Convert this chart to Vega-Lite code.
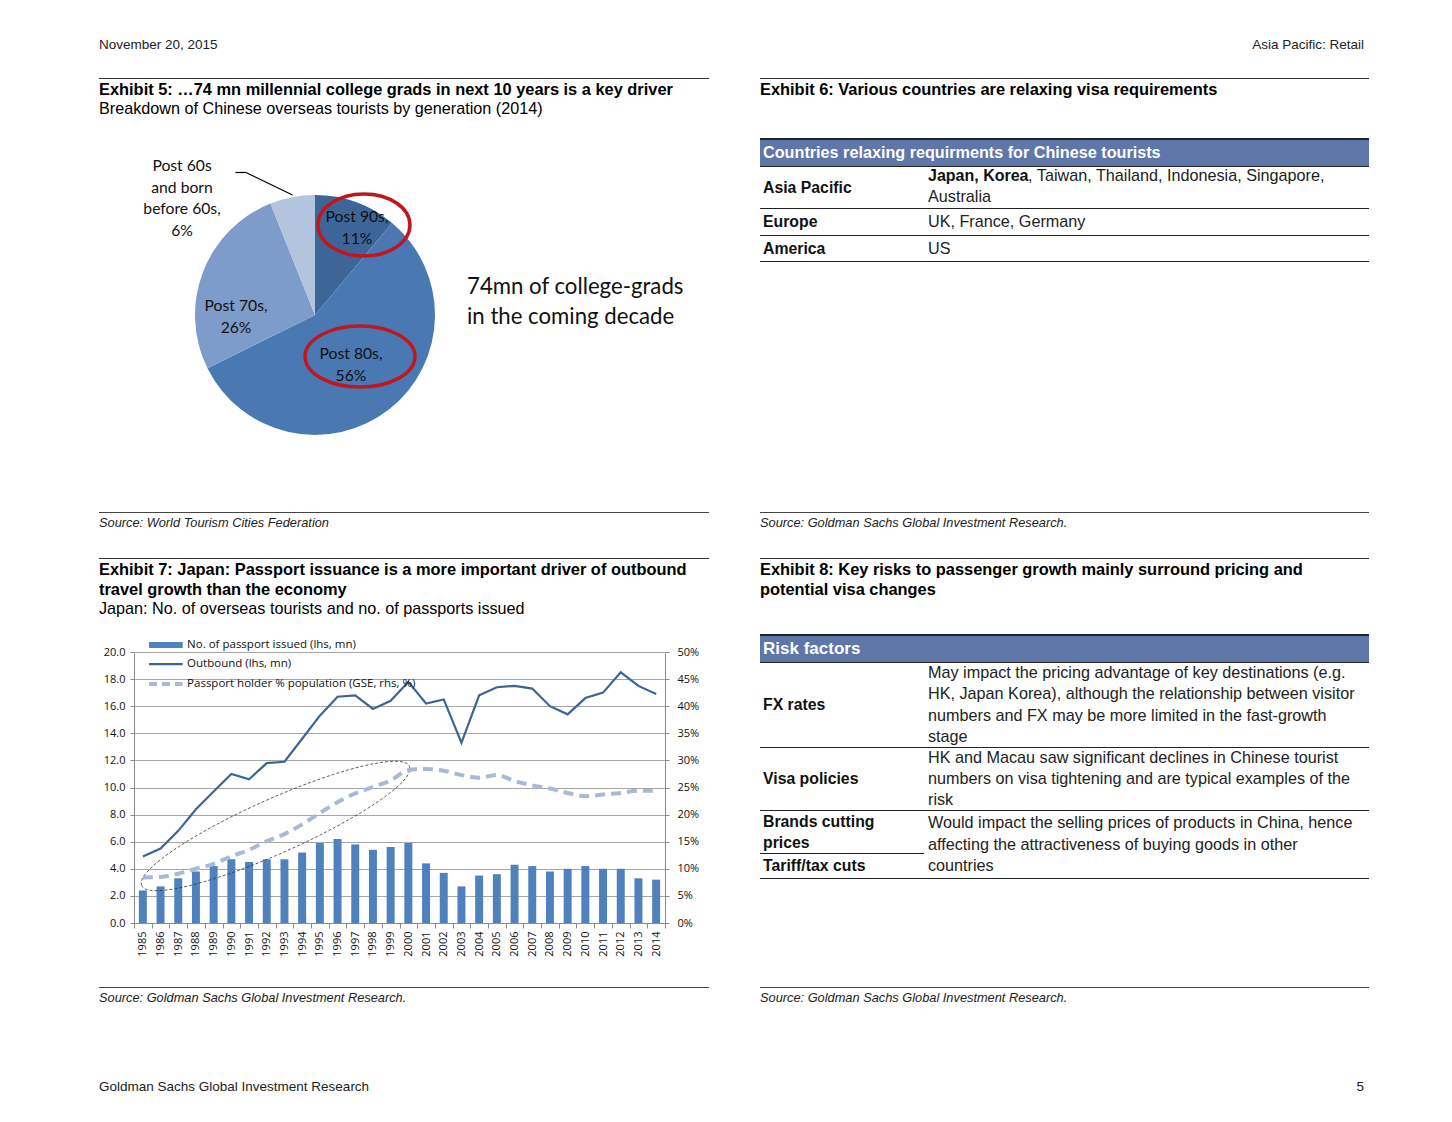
{
  "$schema": "https://vega.github.io/schema/vega-lite/v6.json",
  "padding": {"left": 99, "top": 37, "right": 0, "bottom": 0},
  "background": "#ffffff",
  "config": {
    "view": {"stroke": null},
    "concat": {"spacing": 0},
    "font": "Liberation Sans",
    "title": {"anchor": "start", "frame": "group", "baseline": "top", "offset": 0, "font": "Liberation Sans", "fontSize": 16.4, "fontWeight": "bold", "color": "#000000", "lineHeight": 20, "subtitleFont": "Liberation Sans", "subtitleFontSize": 16.2, "subtitleFontWeight": "normal", "subtitleColor": "#000000", "subtitleLineHeight": 18, "subtitlePadding": 2.6},
    "text": {"font": "Liberation Sans"}
  },
  "datasets": {
    "pie": [
      {"gen": "Post 90s", "share": 11, "label": ["Post 90s,", "11%"]},
      {"gen": "Post 80s", "share": 56, "label": ["Post 80s,", "56%"]},
      {"gen": "Post 70s", "share": 26, "label": ["Post 70s,", "26%"]},
      {"gen": "Post 60s and born before 60s", "share": 6, "label": ["Post 60s", "and born", "before 60s,", "6%"]}
    ],
    "japan": [
      {"year": 1985, "passports": 2.4, "outbound": 4.9, "holder": 0.084},
      {"year": 1986, "passports": 2.7, "outbound": 5.5, "holder": 0.085},
      {"year": 1987, "passports": 3.3, "outbound": 6.8, "holder": 0.091},
      {"year": 1988, "passports": 3.8, "outbound": 8.4, "holder": 0.100},
      {"year": 1989, "passports": 4.2, "outbound": 9.7, "holder": 0.109},
      {"year": 1990, "passports": 4.7, "outbound": 11.0, "holder": 0.123},
      {"year": 1991, "passports": 4.5, "outbound": 10.6, "holder": 0.135},
      {"year": 1992, "passports": 4.7, "outbound": 11.8, "holder": 0.151},
      {"year": 1993, "passports": 4.7, "outbound": 11.9, "holder": 0.164},
      {"year": 1994, "passports": 5.2, "outbound": 13.6, "holder": 0.182},
      {"year": 1995, "passports": 5.9, "outbound": 15.3, "holder": 0.203},
      {"year": 1996, "passports": 6.2, "outbound": 16.7, "holder": 0.223},
      {"year": 1997, "passports": 5.8, "outbound": 16.8, "holder": 0.239},
      {"year": 1998, "passports": 5.4, "outbound": 15.8, "holder": 0.251},
      {"year": 1999, "passports": 5.6, "outbound": 16.4, "holder": 0.263},
      {"year": 2000, "passports": 5.9, "outbound": 17.8, "holder": 0.282},
      {"year": 2001, "passports": 4.4, "outbound": 16.2, "holder": 0.284},
      {"year": 2002, "passports": 3.7, "outbound": 16.5, "holder": 0.281},
      {"year": 2003, "passports": 2.7, "outbound": 13.3, "holder": 0.273},
      {"year": 2004, "passports": 3.5, "outbound": 16.8, "holder": 0.268},
      {"year": 2005, "passports": 3.6, "outbound": 17.4, "holder": 0.273},
      {"year": 2006, "passports": 4.3, "outbound": 17.5, "holder": 0.262},
      {"year": 2007, "passports": 4.2, "outbound": 17.3, "holder": 0.254},
      {"year": 2008, "passports": 3.8, "outbound": 16.0, "holder": 0.248},
      {"year": 2009, "passports": 4.0, "outbound": 15.4, "holder": 0.240},
      {"year": 2010, "passports": 4.2, "outbound": 16.6, "holder": 0.234},
      {"year": 2011, "passports": 4.0, "outbound": 17.0, "holder": 0.237},
      {"year": 2012, "passports": 4.0, "outbound": 18.5, "holder": 0.240},
      {"year": 2013, "passports": 3.3, "outbound": 17.5, "holder": 0.244},
      {"year": 2014, "passports": 3.2, "outbound": 16.9, "holder": 0.244}
    ],
    "visa": [
      {"region": "Asia Pacific", "key": "Japan, Korea", "others": ", Taiwan, Thailand, Indonesia, Singapore,", "wrap": "Australia"},
      {"region": "Europe", "others": "UK, France, Germany"},
      {"region": "America", "others": "US"}
    ],
    "risks": [
      {"factor": "FX rates", "impact": ["May impact the pricing advantage of key destinations (e.g.", "HK, Japan Korea), although the relationship between visitor", "numbers and FX may be more limited in the fast-growth", "stage"]},
      {"factor": "Visa policies", "impact": ["HK and Macau saw significant declines in Chinese tourist", "numbers on visa tightening and are typical examples of the", "risk"]},
      {"factor": "Brands cutting\nprices", "impact": ["Would impact the selling prices of products in China, hence", "affecting the attractiveness of buying goods in other", "countries"]},
      {"factor": "Tariff/tax cuts"}
    ]
  },
  "spacing": 0,
  "vconcat": [
    {
      "spacing": 0,
      "hconcat": [
        {"width": 632, "height": 1, "data": {"values": []}, "mark": "text", "title": {"text": "November 20, 2015", "fontSize": 13.5, "fontWeight": "normal", "color": "#222222"}},
        {"width": 633, "height": 1, "data": {"values": []}, "mark": "text", "title": {"text": "Asia Pacific: Retail", "anchor": "end", "fontSize": 13.5, "fontWeight": "normal", "color": "#222222"}}
      ]
    },
    {"width": 1265, "height": 22, "data": {"values": []}, "mark": "text"},
    {
      "spacing": 51,
      "hconcat": [
        {
          "spacing": 0,
          "vconcat": [
            {"width": 610, "height": 1, "data": {"values": []}, "mark": "text", "view": {"fill": "#333333", "stroke": null}},
            {"width": 610, "height": 2, "data": {"values": []}, "mark": "text"},
            {"width": 610, "height": 1, "data": {"values": []}, "mark": "text", "title": {"text": "Exhibit 5:  …74 mn millennial college grads in next 10 years is a key driver", "subtitle": "Breakdown of Chinese overseas tourists by generation (2014)"}},
            {
              "width": 610,
              "height": 390,
              "data": {"name": "pie"},
              "layer": [
                {
                  "mark": {"type": "arc", "outerRadius": 120},
                  "encoding": {
                    "x": {"datum": 0, "type": "quantitative", "scale": {"domain": [-1.8, 3.2833], "nice": false, "zero": false}, "axis": null},
                    "y": {"datum": 0, "type": "quantitative", "scale": {"domain": [-1.6417, 1.6083], "nice": false, "zero": false}, "axis": null},
                    "theta": {"field": "share", "type": "quantitative", "stack": true},
                    "order": {"field": "gen", "sort": "descending"},
                    "color": {"field": "gen", "type": "nominal", "scale": {"domain": ["Post 90s", "Post 80s", "Post 70s", "Post 60s and born before 60s"], "range": ["#3e6598", "#4a78b3", "#7e9cc9", "#b3c4df"]}, "legend": null}
                  }
                },
                {
                  "transform": [{"filter": "datum.gen === 'Post 90s'"}],
                  "mark": {"type": "text", "font": "Lato", "fontSize": 15.7, "lineHeight": 22, "color": "#111111"},
                  "encoding": {"x": {"datum": 0.35, "type": "quantitative"}, "y": {"datum": 0.8167, "type": "quantitative"}, "text": {"field": "label", "type": "nominal"}}
                },
                {
                  "transform": [{"filter": "datum.gen === 'Post 80s'"}],
                  "mark": {"type": "text", "font": "Lato", "fontSize": 15.7, "lineHeight": 22, "color": "#111111"},
                  "encoding": {"x": {"datum": 0.3, "type": "quantitative"}, "y": {"datum": -0.325, "type": "quantitative"}, "text": {"field": "label", "type": "nominal"}}
                },
                {
                  "transform": [{"filter": "datum.gen === 'Post 70s'"}],
                  "mark": {"type": "text", "font": "Lato", "fontSize": 15.7, "lineHeight": 22, "color": "#111111"},
                  "encoding": {"x": {"datum": -0.658, "type": "quantitative"}, "y": {"datum": 0.075, "type": "quantitative"}, "text": {"field": "label", "type": "nominal"}}
                },
                {
                  "transform": [{"filter": "datum.gen === 'Post 60s and born before 60s'"}],
                  "mark": {"type": "text", "font": "Lato", "fontSize": 15.7, "lineHeight": 21.7, "color": "#111111"},
                  "encoding": {"x": {"datum": -1.108, "type": "quantitative"}, "y": {"datum": 1.2417, "type": "quantitative"}, "text": {"field": "label", "type": "nominal"}}
                },
                {
                  "data": {"values": [{}]},
                  "mark": {"type": "rule", "color": "#000000", "strokeWidth": 1.2},
                  "encoding": {"x": {"datum": -0.6625, "type": "quantitative"}, "y": {"datum": 1.1875, "type": "quantitative"}, "x2": {"datum": -0.575}, "y2": {"datum": 1.1875}}
                },
                {
                  "data": {"values": [{}]},
                  "mark": {"type": "rule", "color": "#000000", "strokeWidth": 1.2},
                  "encoding": {"x": {"datum": -0.575, "type": "quantitative"}, "y": {"datum": 1.1875, "type": "quantitative"}, "x2": {"datum": -0.1875}, "y2": {"datum": 1.0}}
                },
                {
                  "data": {"values": [{}]},
                  "mark": {"type": "point", "shape": "M-1,0A1,0.674,0,1,1,1,0A1,0.674,0,1,1,-1,0Z", "size": 8464, "filled": false, "stroke": "#c0171f", "strokeWidth": 3.5, "opacity": 1},
                  "encoding": {"x": {"datum": 0.408, "type": "quantitative"}, "y": {"datum": 0.75, "type": "quantitative"}}
                },
                {
                  "data": {"values": [{}]},
                  "mark": {"type": "point", "shape": "M-1,0A1,0.555,0,1,1,1,0A1,0.555,0,1,1,-1,0Z", "size": 12100, "filled": false, "stroke": "#c0171f", "strokeWidth": 3.5, "opacity": 1},
                  "encoding": {"x": {"datum": 0.375, "type": "quantitative"}, "y": {"datum": -0.346, "type": "quantitative"}}
                },
                {
                  "data": {"values": [{}]},
                  "mark": {"type": "text", "font": "Lato", "fontSize": 22.2, "align": "left", "lineHeight": 30, "color": "#111111", "text": ["74mn of college-grads", "in the coming decade"]},
                  "encoding": {"x": {"datum": 1.2667, "type": "quantitative"}, "y": {"datum": 0.2333, "type": "quantitative"}}
                }
              ]
            },
            {"width": 610, "height": 1, "data": {"values": []}, "mark": "text", "view": {"fill": "#444444", "stroke": null}},
            {"width": 610, "height": 4, "data": {"values": []}, "mark": "text"},
            {"width": 610, "height": 1, "data": {"values": []}, "mark": "text", "title": {"text": "Source: World Tourism Cities Federation", "fontSize": 12.8, "fontWeight": "normal", "fontStyle": "italic", "color": "#222222"}}
          ]
        },
        {
          "spacing": 0,
          "vconcat": [
            {"width": 609, "height": 1, "data": {"values": []}, "mark": "text", "view": {"fill": "#333333", "stroke": null}},
            {"width": 609, "height": 2, "data": {"values": []}, "mark": "text"},
            {"width": 609, "height": 1, "data": {"values": []}, "mark": "text", "title": {"text": "Exhibit 6: Various countries are relaxing visa requirements"}},
            {"width": 609, "height": 35, "data": {"values": []}, "mark": "text"},
            {"width": 609, "height": 2, "data": {"values": []}, "mark": "text", "view": {"fill": "#222222", "stroke": null}},
            {
              "width": 609, "height": 26,
              "data": {"values": [{"h": "Countries relaxing requirments for Chinese tourists"}]},
              "mark": {"type": "text", "align": "left", "fontWeight": "bold", "fontSize": 16.2, "color": "#ffffff"},
              "encoding": {"x": {"datum": 0.005, "type": "quantitative", "scale": {"domain": [0, 1]}, "axis": null}, "text": {"field": "h", "type": "nominal"}},
              "view": {"fill": "#5e76a8", "stroke": null}
            },
            {"width": 609, "height": 1, "data": {"values": []}, "mark": "text", "view": {"fill": "#222222", "stroke": null}},
            {
              "spacing": 0,
              "hconcat": [
                {
                  "width": 168, "height": 41,
                  "data": {"name": "visa"},
                  "transform": [{"filter": "datum.region === 'Asia Pacific'"}],
                  "mark": {"type": "text", "align": "left", "fontWeight": "bold", "fontSize": 15.8, "color": "#111111"},
                  "encoding": {"x": {"datum": 0.018, "type": "quantitative", "scale": {"domain": [0, 1]}, "axis": null}, "text": {"field": "region", "type": "nominal"}}
                },
                {
                  "spacing": 0,
                  "vconcat": [
                    {
                      "width": 441, "height": 18,
                      "data": {"name": "visa"},
                      "transform": [{"filter": "datum.region === 'Asia Pacific'"}],
                      "layer": [
                        {
                          "mark": {"type": "text", "align": "left", "fontWeight": "bold", "fontSize": 16, "color": "#111111"},
                          "encoding": {"x": {"datum": 0, "type": "quantitative", "scale": {"domain": [0, 1]}, "axis": null}, "text": {"field": "key", "type": "nominal"}}
                        },
                        {
                          "mark": {"type": "text", "align": "left", "fontSize": 16.2, "color": "#222222"},
                          "encoding": {"x": {"datum": 0.227, "type": "quantitative"}, "text": {"field": "others", "type": "nominal"}}
                        }
                      ]
                    },
                    {
                      "width": 441, "height": 23,
                      "data": {"name": "visa"},
                      "transform": [{"filter": "datum.region === 'Asia Pacific'"}],
                      "mark": {"type": "text", "align": "left", "fontSize": 16.2, "color": "#222222"},
                      "encoding": {"x": {"datum": 0, "type": "quantitative", "scale": {"domain": [0, 1]}, "axis": null}, "text": {"field": "wrap", "type": "nominal"}}
                    }
                  ]
                }
              ]
            },
            {"width": 609, "height": 1, "data": {"values": []}, "mark": "text", "view": {"fill": "#222222", "stroke": null}},
            {
              "spacing": 0,
              "hconcat": [
                {
                  "width": 168, "height": 26,
                  "data": {"name": "visa"},
                  "transform": [{"filter": "datum.region === 'Europe'"}],
                  "mark": {"type": "text", "align": "left", "fontWeight": "bold", "fontSize": 15.8, "color": "#111111"},
                  "encoding": {"x": {"datum": 0.018, "type": "quantitative", "scale": {"domain": [0, 1]}, "axis": null}, "text": {"field": "region", "type": "nominal"}}
                },
                {
                  "width": 441, "height": 26,
                  "data": {"name": "visa"},
                  "transform": [{"filter": "datum.region === 'Europe'"}],
                  "mark": {"type": "text", "align": "left", "fontSize": 16.2, "color": "#222222"},
                  "encoding": {"x": {"datum": 0, "type": "quantitative", "scale": {"domain": [0, 1]}, "axis": null}, "text": {"field": "others", "type": "nominal"}}
                }
              ]
            },
            {"width": 609, "height": 1, "data": {"values": []}, "mark": "text", "view": {"fill": "#222222", "stroke": null}},
            {
              "spacing": 0,
              "hconcat": [
                {
                  "width": 168, "height": 25,
                  "data": {"name": "visa"},
                  "transform": [{"filter": "datum.region === 'America'"}],
                  "mark": {"type": "text", "align": "left", "fontWeight": "bold", "fontSize": 15.8, "color": "#111111"},
                  "encoding": {"x": {"datum": 0.018, "type": "quantitative", "scale": {"domain": [0, 1]}, "axis": null}, "text": {"field": "region", "type": "nominal"}}
                },
                {
                  "width": 441, "height": 25,
                  "data": {"name": "visa"},
                  "transform": [{"filter": "datum.region === 'America'"}],
                  "mark": {"type": "text", "align": "left", "fontSize": 16.2, "color": "#222222"},
                  "encoding": {"x": {"datum": 0, "type": "quantitative", "scale": {"domain": [0, 1]}, "axis": null}, "text": {"field": "others", "type": "nominal"}}
                }
              ]
            },
            {"width": 609, "height": 1, "data": {"values": []}, "mark": "text", "view": {"fill": "#222222", "stroke": null}},
            {"width": 609, "height": 250, "data": {"values": []}, "mark": "text"},
            {"width": 609, "height": 1, "data": {"values": []}, "mark": "text", "view": {"fill": "#444444", "stroke": null}},
            {"width": 609, "height": 4, "data": {"values": []}, "mark": "text"},
            {"width": 609, "height": 1, "data": {"values": []}, "mark": "text", "title": {"text": "Source: Goldman Sachs Global Investment Research.", "fontSize": 12.8, "fontWeight": "normal", "fontStyle": "italic", "color": "#222222"}}
          ]
        }
      ]
    },
    {"width": 1265, "height": 23, "data": {"values": []}, "mark": "text"},
    {
      "spacing": 51,
      "hconcat": [
        {
          "spacing": 0,
          "vconcat": [
            {"width": 610, "height": 1, "data": {"values": []}, "mark": "text", "view": {"fill": "#333333", "stroke": null}},
            {"width": 610, "height": 2, "data": {"values": []}, "mark": "text"},
            {"width": 610, "height": 1, "data": {"values": []}, "mark": "text", "title": {"text": ["Exhibit 7: Japan: Passport issuance is a more important driver of outbound", "travel growth than the economy"], "subtitle": "Japan: No. of overseas tourists and no. of passports issued"}},
            {"width": 610, "height": 16, "data": {"values": []}, "mark": "text"},
            {
              "spacing": 0,
              "hconcat": [
                {"width": 4, "height": 1, "data": {"values": []}, "mark": "text"},
                {
                  "width": 531,
                  "height": 271,
                  "data": {"name": "japan"},
                  "encoding": {
                    "x": {"field": "year", "type": "ordinal", "scale": {"paddingInner": 0, "paddingOuter": 0}, "axis": {"title": null, "labelAngle": -90, "labelFont": "Open Sans", "labelFontSize": 11, "labelColor": "#111111", "domainColor": "#8c8c8c", "tickColor": "#8c8c8c", "tickBand": "extent", "tickSize": 5, "labelPadding": 3}}
                  },
                  "layer": [
                    {
                      "layer": [
                        {
                          "mark": {"type": "bar", "color": "#4f81bd", "width": {"band": 0.45}},
                          "encoding": {"y": {"field": "passports", "type": "quantitative", "scale": {"domain": [0, 20], "nice": false}, "axis": {"title": null, "values": [0, 2, 4, 6, 8, 10, 12, 14, 16, 18, 20], "format": ".1f", "grid": true, "gridColor": "#a6a6a6", "domainColor": "#8c8c8c", "tickColor": "#8c8c8c", "tickSize": 4, "labelFont": "Open Sans", "labelFontSize": 11, "labelColor": "#111111", "labelPadding": 5, "labelOverlap": false}}}
                        },
                        {
                          "mark": {"type": "line", "color": "#3c6597", "strokeWidth": 2.2},
                          "encoding": {"y": {"field": "outbound", "type": "quantitative", "axis": {"title": null, "values": [0, 2, 4, 6, 8, 10, 12, 14, 16, 18, 20], "format": ".1f", "grid": true, "gridColor": "#a6a6a6", "domainColor": "#8c8c8c", "tickColor": "#8c8c8c", "tickSize": 4, "labelFont": "Open Sans", "labelFontSize": 11, "labelColor": "#111111", "labelPadding": 5, "labelOverlap": false}}}
                        },
                        {
                          "data": {"values": [{}]},
                          "mark": {"type": "rule", "color": "#4f81bd", "strokeWidth": 6},
                          "encoding": {"x": {"datum": 1985, "bandPosition": 0.85}, "x2": {"datum": 1987, "bandPosition": 0.75}, "y": {"datum": 20.52, "type": "quantitative", "axis": {"title": null, "values": [0, 2, 4, 6, 8, 10, 12, 14, 16, 18, 20], "format": ".1f", "grid": true, "gridColor": "#a6a6a6", "domainColor": "#8c8c8c", "tickColor": "#8c8c8c", "tickSize": 4, "labelFont": "Open Sans", "labelFontSize": 11, "labelColor": "#111111", "labelPadding": 5, "labelOverlap": false}}}
                        },
                        {
                          "data": {"values": [{}]},
                          "mark": {"type": "rule", "color": "#3c6597", "strokeWidth": 2.2},
                          "encoding": {"x": {"datum": 1985, "bandPosition": 0.85}, "x2": {"datum": 1987, "bandPosition": 0.75}, "y": {"datum": 19.11, "type": "quantitative", "axis": {"title": null, "values": [0, 2, 4, 6, 8, 10, 12, 14, 16, 18, 20], "format": ".1f", "grid": true, "gridColor": "#a6a6a6", "domainColor": "#8c8c8c", "tickColor": "#8c8c8c", "tickSize": 4, "labelFont": "Open Sans", "labelFontSize": 11, "labelColor": "#111111", "labelPadding": 5, "labelOverlap": false}}}
                        },
                        {
                          "data": {"values": [{}]},
                          "mark": {"type": "rule", "color": "#a9b9d8", "strokeWidth": 4, "strokeDash": [8, 5]},
                          "encoding": {"x": {"datum": 1985, "bandPosition": 0.85}, "x2": {"datum": 1987, "bandPosition": 0.75}, "y": {"datum": 17.64, "type": "quantitative", "axis": {"title": null, "values": [0, 2, 4, 6, 8, 10, 12, 14, 16, 18, 20], "format": ".1f", "grid": true, "gridColor": "#a6a6a6", "domainColor": "#8c8c8c", "tickColor": "#8c8c8c", "tickSize": 4, "labelFont": "Open Sans", "labelFontSize": 11, "labelColor": "#111111", "labelPadding": 5, "labelOverlap": false}}}
                        },
                        {
                          "data": {"values": [{}]},
                          "mark": {"type": "text", "align": "left", "font": "Open Sans", "fontSize": 11.5, "color": "#111111", "text": "No. of passport issued (lhs, mn)"},
                          "encoding": {"x": {"datum": 1988, "bandPosition": 0}, "y": {"datum": 20.52, "type": "quantitative", "axis": {"title": null, "values": [0, 2, 4, 6, 8, 10, 12, 14, 16, 18, 20], "format": ".1f", "grid": true, "gridColor": "#a6a6a6", "domainColor": "#8c8c8c", "tickColor": "#8c8c8c", "tickSize": 4, "labelFont": "Open Sans", "labelFontSize": 11, "labelColor": "#111111", "labelPadding": 5, "labelOverlap": false}}}
                        },
                        {
                          "data": {"values": [{}]},
                          "mark": {"type": "text", "align": "left", "font": "Open Sans", "fontSize": 11.5, "color": "#111111", "text": "Outbound (lhs, mn)"},
                          "encoding": {"x": {"datum": 1988, "bandPosition": 0}, "y": {"datum": 19.11, "type": "quantitative", "axis": {"title": null, "values": [0, 2, 4, 6, 8, 10, 12, 14, 16, 18, 20], "format": ".1f", "grid": true, "gridColor": "#a6a6a6", "domainColor": "#8c8c8c", "tickColor": "#8c8c8c", "tickSize": 4, "labelFont": "Open Sans", "labelFontSize": 11, "labelColor": "#111111", "labelPadding": 5, "labelOverlap": false}}}
                        },
                        {
                          "data": {"values": [{}]},
                          "mark": {"type": "text", "align": "left", "font": "Open Sans", "fontSize": 11.5, "color": "#111111", "text": "Passport holder % population (GSE, rhs, %)"},
                          "encoding": {"x": {"datum": 1988, "bandPosition": 0}, "y": {"datum": 17.64, "type": "quantitative", "axis": {"title": null, "values": [0, 2, 4, 6, 8, 10, 12, 14, 16, 18, 20], "format": ".1f", "grid": true, "gridColor": "#a6a6a6", "domainColor": "#8c8c8c", "tickColor": "#8c8c8c", "tickSize": 4, "labelFont": "Open Sans", "labelFontSize": 11, "labelColor": "#111111", "labelPadding": 5, "labelOverlap": false}}}
                        },
                        {
                          "data": {"values": [{}]},
                          "mark": {"type": "point", "shape": "M-0.9135,0.4067A1,0.184,-24,1,1,0.9135,-0.4067A1,0.184,-24,1,1,-0.9135,0.4067Z", "size": 85849, "filled": false, "stroke": "#333333", "strokeWidth": 0.8, "strokeDash": [3, 2], "opacity": 1},
                          "encoding": {"x": {"datum": 1993, "bandPosition": 0}, "y": {"datum": 7.16, "type": "quantitative", "axis": {"title": null, "values": [0, 2, 4, 6, 8, 10, 12, 14, 16, 18, 20], "format": ".1f", "grid": true, "gridColor": "#a6a6a6", "domainColor": "#8c8c8c", "tickColor": "#8c8c8c", "tickSize": 4, "labelFont": "Open Sans", "labelFontSize": 11, "labelColor": "#111111", "labelPadding": 5, "labelOverlap": false}}}
                        }
                      ]
                    },
                    {
                      "mark": {"type": "line", "color": "#a9b9d8", "strokeWidth": 4, "strokeDash": [10, 6], "interpolate": "monotone"},
                      "encoding": {"y": {"field": "holder", "type": "quantitative", "scale": {"domain": [0, 0.5], "nice": false}, "axis": {"orient": "right", "title": null, "values": [0, 0.05, 0.1, 0.15, 0.2, 0.25, 0.3, 0.35, 0.4, 0.45, 0.5], "format": ".0%", "grid": false, "domainColor": "#8c8c8c", "tickColor": "#8c8c8c", "tickSize": 4, "labelFont": "Open Sans", "labelFontSize": 11, "labelColor": "#111111", "labelPadding": 8, "labelOverlap": false}}}
                    }
                  ],
                  "resolve": {"scale": {"y": "independent"}}
                }
              ]
            },
            {"width": 610, "height": 30, "data": {"values": []}, "mark": "text"},
            {"width": 610, "height": 1, "data": {"values": []}, "mark": "text", "view": {"fill": "#444444", "stroke": null}},
            {"width": 610, "height": 4, "data": {"values": []}, "mark": "text"},
            {"width": 610, "height": 1, "data": {"values": []}, "mark": "text", "title": {"text": "Source: Goldman Sachs Global Investment Research.", "fontSize": 12.8, "fontWeight": "normal", "fontStyle": "italic", "color": "#222222"}}
          ]
        },
        {
          "spacing": 0,
          "vconcat": [
            {"width": 609, "height": 1, "data": {"values": []}, "mark": "text", "view": {"fill": "#333333", "stroke": null}},
            {"width": 609, "height": 2, "data": {"values": []}, "mark": "text"},
            {"width": 609, "height": 1, "data": {"values": []}, "mark": "text", "title": {"text": ["Exhibit 8: Key risks to passenger growth mainly surround pricing and", "potential visa changes"]}},
            {"width": 609, "height": 31, "data": {"values": []}, "mark": "text"},
            {"width": 609, "height": 2, "data": {"values": []}, "mark": "text", "view": {"fill": "#222222", "stroke": null}},
            {
              "width": 609, "height": 26,
              "data": {"values": [{"h": "Risk factors"}]},
              "mark": {"type": "text", "align": "left", "fontWeight": "bold", "fontSize": 17, "color": "#ffffff"},
              "encoding": {"x": {"datum": 0.005, "type": "quantitative", "scale": {"domain": [0, 1]}, "axis": null}, "text": {"field": "h", "type": "nominal"}},
              "view": {"fill": "#5e76a8", "stroke": null}
            },
            {"width": 609, "height": 1, "data": {"values": []}, "mark": "text", "view": {"fill": "#222222", "stroke": null}},
            {
              "spacing": 0,
              "hconcat": [
                {
                  "width": 168, "height": 84,
                  "data": {"name": "risks"},
                  "transform": [{"filter": "datum.factor === 'FX rates'"}],
                  "mark": {"type": "text", "align": "left", "fontWeight": "bold", "fontSize": 15.8, "color": "#111111"},
                  "encoding": {"x": {"datum": 0.018, "type": "quantitative", "scale": {"domain": [0, 1]}, "axis": null}, "text": {"field": "factor", "type": "nominal"}}
                },
                {
                  "width": 441, "height": 84,
                  "data": {"name": "risks"},
                  "transform": [{"filter": "datum.factor === 'FX rates'"}],
                  "mark": {"type": "text", "align": "left", "fontSize": 16.2, "lineHeight": 21.3, "dy": -32, "color": "#222222"},
                  "encoding": {"x": {"datum": 0, "type": "quantitative", "scale": {"domain": [0, 1]}, "axis": null}, "text": {"field": "impact", "type": "nominal"}}
                }
              ]
            },
            {"width": 609, "height": 1, "data": {"values": []}, "mark": "text", "view": {"fill": "#222222", "stroke": null}},
            {
              "spacing": 0,
              "hconcat": [
                {
                  "width": 168, "height": 62,
                  "data": {"name": "risks"},
                  "transform": [{"filter": "datum.factor === 'Visa policies'"}],
                  "mark": {"type": "text", "align": "left", "fontWeight": "bold", "fontSize": 15.8, "color": "#111111"},
                  "encoding": {"x": {"datum": 0.018, "type": "quantitative", "scale": {"domain": [0, 1]}, "axis": null}, "text": {"field": "factor", "type": "nominal"}}
                },
                {
                  "width": 441, "height": 62,
                  "data": {"name": "risks"},
                  "transform": [{"filter": "datum.factor === 'Visa policies'"}],
                  "mark": {"type": "text", "align": "left", "fontSize": 16.2, "lineHeight": 21.3, "dy": -21.3, "color": "#222222"},
                  "encoding": {"x": {"datum": 0, "type": "quantitative", "scale": {"domain": [0, 1]}, "axis": null}, "text": {"field": "impact", "type": "nominal"}}
                }
              ]
            },
            {"width": 609, "height": 1, "data": {"values": []}, "mark": "text", "view": {"fill": "#222222", "stroke": null}},
            {
              "spacing": 0,
              "hconcat": [
                {
                  "spacing": 0,
                  "vconcat": [
                    {
                      "width": 168, "height": 42,
                      "data": {"name": "risks"},
                      "transform": [{"filter": "indexof(datum.factor, 'Brands') === 0"}],
                      "mark": {"type": "text", "align": "left", "fontWeight": "bold", "fontSize": 15.8, "lineHeight": 21, "lineBreak": "\n", "dy": -10.5, "color": "#111111"},
                      "encoding": {"x": {"datum": 0.018, "type": "quantitative", "scale": {"domain": [0, 1]}, "axis": null}, "text": {"field": "factor", "type": "nominal"}}
                    },
                    {"width": 164, "height": 1, "data": {"values": []}, "mark": "text", "view": {"fill": "#222222", "stroke": null}},
                    {
                      "width": 168, "height": 24,
                      "data": {"name": "risks"},
                      "transform": [{"filter": "datum.factor === 'Tariff/tax cuts'"}],
                      "mark": {"type": "text", "align": "left", "fontWeight": "bold", "fontSize": 15.8, "color": "#111111"},
                      "encoding": {"x": {"datum": 0.018, "type": "quantitative", "scale": {"domain": [0, 1]}, "axis": null}, "text": {"field": "factor", "type": "nominal"}}
                    }
                  ]
                },
                {
                  "width": 441, "height": 67,
                  "data": {"name": "risks"},
                  "transform": [{"filter": "indexof(datum.factor, 'Brands') === 0"}],
                  "mark": {"type": "text", "align": "left", "fontSize": 16.2, "lineHeight": 21.5, "dy": -21.5, "color": "#222222"},
                  "encoding": {"x": {"datum": 0, "type": "quantitative", "scale": {"domain": [0, 1]}, "axis": null}, "text": {"field": "impact", "type": "nominal"}}
                }
              ]
            },
            {"width": 609, "height": 1, "data": {"values": []}, "mark": "text", "view": {"fill": "#222222", "stroke": null}},
            {"width": 609, "height": 108, "data": {"values": []}, "mark": "text"},
            {"width": 609, "height": 1, "data": {"values": []}, "mark": "text", "view": {"fill": "#444444", "stroke": null}},
            {"width": 609, "height": 4, "data": {"values": []}, "mark": "text"},
            {"width": 609, "height": 1, "data": {"values": []}, "mark": "text", "title": {"text": "Source: Goldman Sachs Global Investment Research.", "fontSize": 12.8, "fontWeight": "normal", "fontStyle": "italic", "color": "#222222"}}
          ]
        }
      ]
    },
    {"width": 1265, "height": 69, "data": {"values": []}, "mark": "text"},
    {
      "spacing": 0,
      "hconcat": [
        {"width": 632, "height": 1, "data": {"values": []}, "mark": "text", "title": {"text": "Goldman Sachs Global Investment Research", "fontSize": 13.5, "fontWeight": "normal", "color": "#222222"}},
        {"width": 633, "height": 1, "data": {"values": []}, "mark": "text", "title": {"text": "5", "anchor": "end", "fontSize": 13.5, "fontWeight": "normal", "color": "#222222"}}
      ]
    }
  ]
}
